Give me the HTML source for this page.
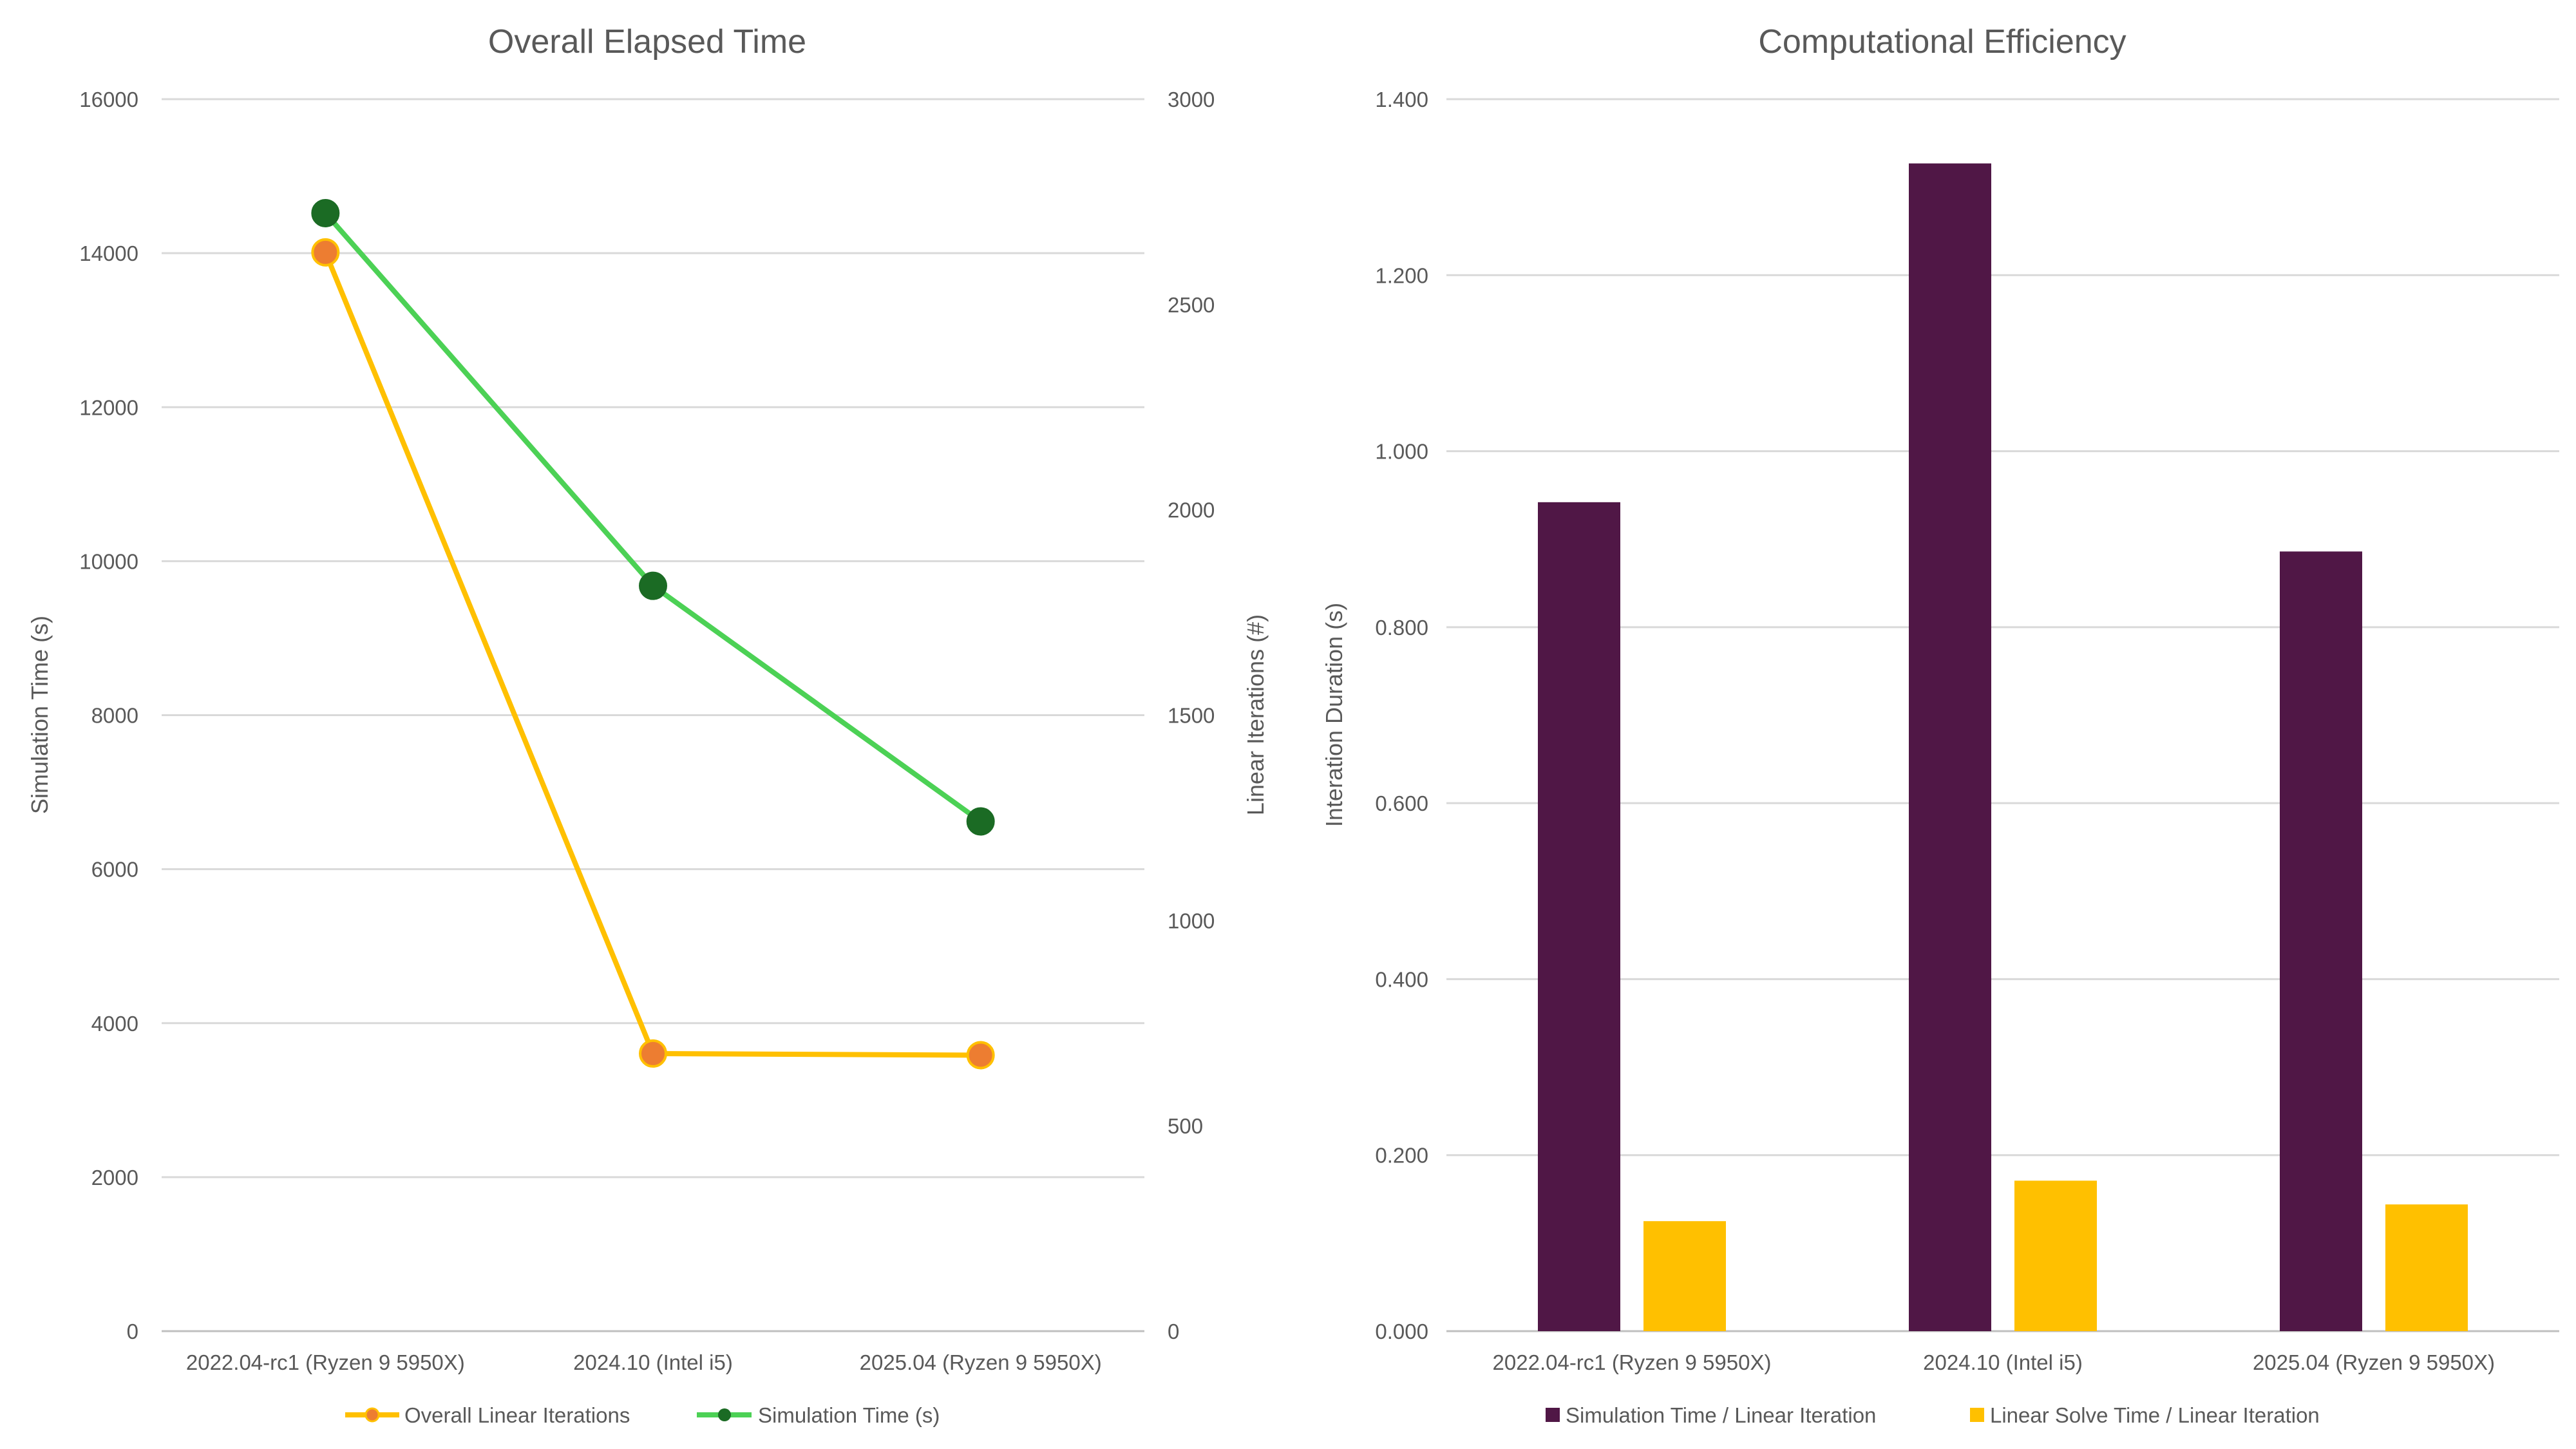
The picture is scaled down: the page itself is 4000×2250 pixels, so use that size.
<!DOCTYPE html>
<html><head><meta charset="utf-8"><style>
html,body{margin:0;padding:0;background:#fff;}
svg{display:block;font-family:"Liberation Sans",sans-serif;}
</style></head><body>
<svg id="s" width="4000" height="2250" viewBox="0 0 4000 2250">
<rect width="4000" height="2250" fill="#fff"/>
<g id="left"></g>
<g id="right"></g>
</svg>
<script>
const categories = ["2022.04-rc1 (Ryzen 9 5950X)", "2024.10 (Intel i5)", "2025.04 (Ryzen 9 5950X)"];
const simTime = [14520, 9680, 6620];
const linearIters = [2627, 676, 672];
const leftTicks = [0, 2000, 4000, 6000, 8000, 10000, 12000, 14000, 16000];
const rightTicks = [0, 500, 1000, 1500, 2000, 2500, 3000];
const simPerIter = [0.942, 1.327, 0.886];
const solvePerIter = [0.125, 0.171, 0.144];
const effTicks = [0, 0.2, 0.4, 0.6, 0.8, 1.0, 1.2, 1.4];

const NS = "http://www.w3.org/2000/svg";
function mk(parent, tag, attrs, text) {
  const e = document.createElementNS(NS, tag);
  for (const k in attrs) e.setAttribute(k, attrs[k]);
  if (text !== undefined) e.textContent = text;
  parent.appendChild(e);
  return e;
}
const TXT = "#595959";
const plotTop = 154, bot = 2067;

// ---- Left chart ----
const L = document.getElementById('left');
const lx0 = 251, lx1 = 1777;
const yL = v => bot - (v / 16000) * (bot - plotTop);
const yR = v => bot - (v / 3000) * (bot - plotTop);
const xL = i => lx0 + (lx1 - lx0) * (i + 0.5) / categories.length;

let t = mk(L, 'text', {x: 1005, y: 82, 'font-size': 52, fill: TXT, 'text-anchor': 'middle'}, "Overall Elapsed Time");


leftTicks.forEach(v => {
  const g = mk(L, 'line', {x1: lx0, x2: lx1, y1: yL(v), y2: yL(v), stroke: v === 0 ? '#bfbfbf' : '#d9d9d9', 'stroke-width': 3});
  
  
  const tl = mk(L, 'text', {x: 215, y: yL(v) + 12, 'font-size': 33, fill: TXT, 'text-anchor': 'end'}, String(v));
  
  
});
rightTicks.forEach(v => {
  const tl = mk(L, 'text', {x: 1813, y: yR(v) + 12, 'font-size': 33, fill: TXT}, String(v));
  
  
});
t = mk(L, 'text', {x: 0, y: 0, 'font-size': 36, fill: TXT, 'text-anchor': 'middle', transform: 'translate(74,1110) rotate(-90)'}, "Simulation Time (s)");


t = mk(L, 'text', {x: 0, y: 0, 'font-size': 36, fill: TXT, 'text-anchor': 'middle', transform: 'translate(1962,1110) rotate(-90)'}, "Linear Iterations (#)");


categories.forEach((c, i) => {
  const tl = mk(L, 'text', {x: xL(i), y: 2127, 'font-size': 33, fill: TXT, 'text-anchor': 'middle'}, c);
  
  
});
let p = mk(L, 'polyline', {points: linearIters.map((v, i) => xL(i) + ',' + yR(v)).join(' '), fill: 'none', stroke: '#FFC000', 'stroke-width': 8, 'stroke-linejoin': 'round'});


p = mk(L, 'polyline', {points: simTime.map((v, i) => xL(i) + ',' + yL(v)).join(' '), fill: 'none', stroke: '#4CD155', 'stroke-width': 8, 'stroke-linejoin': 'round'});


linearIters.forEach((v, i) => {
  const c = mk(L, 'circle', {cx: xL(i), cy: yR(v), r: 20, fill: '#ED7D31', stroke: '#FFC000', 'stroke-width': 4});
  
  
});
simTime.forEach((v, i) => {
  const c = mk(L, 'circle', {cx: xL(i), cy: yL(v), r: 21, fill: '#1B6B24', stroke: '#1B6B24', 'stroke-width': 2});
  
  
});
let lg = mk(L, 'g', {});


mk(lg, 'line', {x1: 536, x2: 620, y1: 2197, y2: 2197, stroke: '#FFC000', 'stroke-width': 8});
mk(lg, 'circle', {cx: 578, cy: 2197, r: 10, fill: '#ED7D31', stroke: '#FFC000', 'stroke-width': 3});
mk(lg, 'text', {x: 628, y: 2209, 'font-size': 33, fill: TXT}, "Overall Linear Iterations");
lg = mk(L, 'g', {});


mk(lg, 'line', {x1: 1082, x2: 1167, y1: 2197, y2: 2197, stroke: '#4CD155', 'stroke-width': 8});
mk(lg, 'circle', {cx: 1125, cy: 2197, r: 10, fill: '#1B6B24'});
mk(lg, 'text', {x: 1177, y: 2209, 'font-size': 33, fill: TXT}, "Simulation Time (s)");

// ---- Right chart ----
const R = document.getElementById('right');
const rx0 = 2246, rx1 = 3974;
const yE = v => bot - (v / 1.4) * (bot - plotTop);
const xC = i => rx0 + (rx1 - rx0) * (i + 0.5) / categories.length;
const bw = 128, gap = 36;
t = mk(R, 'text', {x: 3016, y: 82, 'font-size': 52, fill: TXT, 'text-anchor': 'middle'}, "Computational Efficiency");


effTicks.forEach(v => {
  const g = mk(R, 'line', {x1: rx0, x2: rx1, y1: yE(v), y2: yE(v), stroke: v === 0 ? '#bfbfbf' : '#d9d9d9', 'stroke-width': 3});
  
  
  const tl = mk(R, 'text', {x: 2218, y: yE(v) + 12, 'font-size': 33, fill: TXT, 'text-anchor': 'end'}, v.toFixed(3));
  
  
});
t = mk(R, 'text', {x: 0, y: 0, 'font-size': 36, fill: TXT, 'text-anchor': 'middle', transform: 'translate(2084,1110) rotate(-90)'}, "Interation Duration (s)");


categories.forEach((c, i) => {
  const tl = mk(R, 'text', {x: xC(i), y: 2127, 'font-size': 33, fill: TXT, 'text-anchor': 'middle'}, c);
  
  
});
simPerIter.forEach((v, i) => {
  const r = mk(R, 'rect', {x: xC(i) - gap / 2 - bw, y: yE(v), width: bw, height: bot - yE(v), fill: '#501746'});
  
  
});
solvePerIter.forEach((v, i) => {
  const r = mk(R, 'rect', {x: xC(i) + gap / 2, y: yE(v), width: bw, height: bot - yE(v), fill: '#FFC000'});
  
  
});
lg = mk(R, 'g', {});


mk(lg, 'rect', {x: 2400, y: 2186, width: 22, height: 22, fill: '#501746'});
mk(lg, 'text', {x: 2431, y: 2209, 'font-size': 33, fill: TXT}, "Simulation Time / Linear Iteration");
lg = mk(R, 'g', {});


mk(lg, 'rect', {x: 3059, y: 2186, width: 22, height: 22, fill: '#FFC000'});
mk(lg, 'text', {x: 3090, y: 2209, 'font-size': 33, fill: TXT}, "Linear Solve Time / Linear Iteration");
</script>
</body></html>
